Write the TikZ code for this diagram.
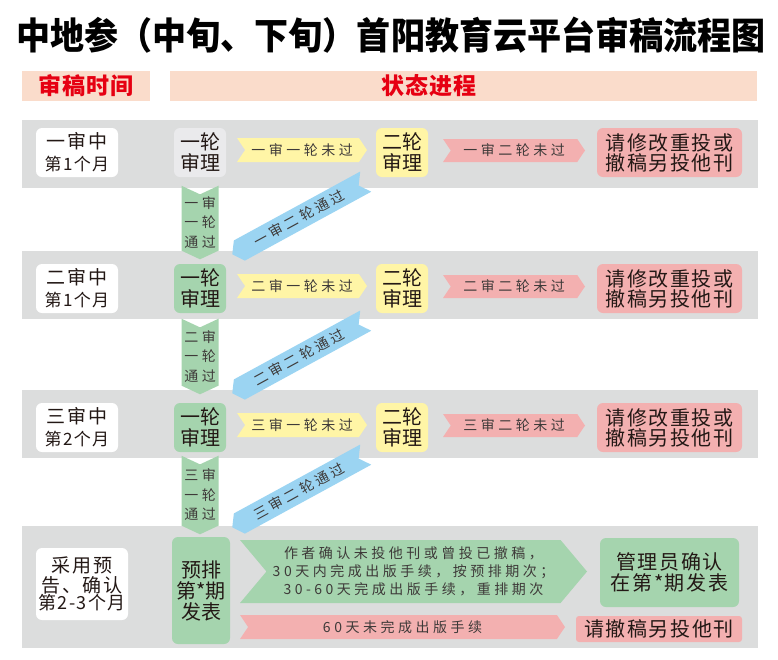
\documentclass[tikz,border=0pt]{standalone}
\usepackage{fontspec}
\usepackage{tikz}
\usetikzlibrary{shapes.symbols}

\setmainfont{Noto Sans CJK SC}
\newfontfamily\boxfont{Noto Sans CJK SC}[LetterSpace=8]
\newfontfamily\arrowfont{Noto Sans CJK SC}[LetterSpace=25]
\newfontfamily\hdrfont{Noto Sans CJK SC}[LetterSpace=5]

\definecolor{bandgray}{HTML}{DCDDDD}
\definecolor{hdrpeach}{HTML}{FADCCB}
\definecolor{hdrred}{HTML}{E60012}
\definecolor{boxgray}{HTML}{EAEAEC}
\definecolor{passgreen}{HTML}{A5D4AE}
\definecolor{passblue}{HTML}{9BD4F2}
\definecolor{failyellow}{HTML}{FFF5A6}
\definecolor{failpink}{HTML}{F3B0B0}
\definecolor{ink}{HTML}{231815}
\definecolor{inkgray}{HTML}{3E3A39}

\begin{document}
\begin{tikzpicture}[x=1pt, y=-1pt,
    band/.style={fill=bandgray, inner sep=0pt, minimum width=736},
    hdr/.style={fill=hdrpeach, text=hdrred, inner sep=0pt, minimum height=30, font=\hdrfont\bfseries\fontsize{23}{23}\selectfont},
    timebox/.style={fill=white, rounded corners=6, align=center, inner sep=0pt, minimum width=82, minimum height=49, text=ink, font=\boxfont\fontsize{19}{22}\selectfont},
    stagebox/.style={rounded corners=6, align=center, inner sep=0pt, minimum width=52, minimum height=49, text=ink, font=\fontsize{20}{21}\selectfont},
    resultbox/.style={fill=failpink, rounded corners=6, align=center, inner sep=0pt, text=ink, font=\boxfont\fontsize{20}{20}\selectfont},
    flow/.style={signal, signal from=west, signal to=east, signal pointer angle=112, inner sep=0pt, minimum height=24, text=inkgray, font=\arrowfont\fontsize{14}{14}\selectfont},
    downflow/.style={signal, signal from=north, signal to=south, signal pointer angle=130, fill=passgreen, inner sep=0pt, minimum width=37, align=center, text=inkgray, font=\arrowfont\fontsize{14}{19.5}\selectfont},
    crossflow/.style={signal, signal from=east, signal to=west, signal pointer angle=110, fill=passblue, inner sep=0pt, minimum width=152, minimum height=23, rotate=28.6, text=inkgray, font=\arrowfont\fontsize{14}{14}\selectfont}
  ]
  \useasboundingbox (0,0) rectangle (778,659);

  \node[font=\bfseries\fontsize{37}{37}\selectfont] (title) at (391,35) {\scalebox{0.92}[1]{中地参（中旬、下旬）首阳教育云平台审稿流程图}};

  \node[hdr, minimum width=128] (hdrtime) at (86,85.5) {审稿时间};
  \node[hdr, minimum width=587] (hdrstate) at (463.5,85.5) {};
  \node[hdr, fill=none] (hdrstatetext) at (429,85.5) {状态进程};

  % grey bands first, arrows cross them
  \foreach \i/\bandy/\bandh in {1/154/68, 2/285/68, 3/424/68, 4/587/122}
    \node[band, minimum height=\bandh] (band\i) at (390,\bandy) {};

  \foreach \i/\ord/\mon/\rowy/\sfill/\downy/\downh/\crossy in {1/一/1/152.5/boxgray/222.5/71/218, 2/二/1/288.5/passgreen/356.5/73/357, 3/三/2/427.5/passgreen/495/76/491} {
    \node[timebox] (t\i) at (77,\rowy) {\ord 审中\\{\fontsize{17}{17}\selectfont 第\mon 个月}};
    \node[stagebox, fill=\sfill] (first\i) at (200,\rowy) {一轮\\审理};
    \node[flow, fill=failyellow, minimum width=130] (failfirst\i) at (302,{\rowy-2.5}) {\ord 审一轮未过};
    \node[stagebox, fill=failyellow] (second\i) at (402,\rowy) {二轮\\审理};
    \node[flow, fill=failpink, minimum width=142, minimum height=23] (failsecond\i) at (514,{\rowy-2}) {\ord 审二轮未过};
    \node[resultbox, minimum width=145, minimum height=49] (revise\i) at (669.5,\rowy) {请修改重投或\\撤稿另投他刊};
    \node[downflow, minimum height=\downh] (passfirst\i) at (200,\downy) {\ord 审\\一轮\\通过};
    \node[crossflow] (passsecond\i) at (299,\crossy) {\ord 审二轮通过};
  }

  \node[timebox, minimum width=92, minimum height=72, font=\boxfont\fontsize{19}{20}\selectfont] (t4) at (82,584) {采用预\\告、确认\\[-3pt]{\fontsize{18}{18}\selectfont 第2-3个月}};
  \node[stagebox, fill=passgreen, minimum width=58, minimum height=107] (pub) at (201,590.5) {预排\\第*期\\发表};
  \node[flow, fill=passgreen, minimum width=347, minimum height=63, signal pointer angle=100, align=center, font=\arrowfont\fontsize{14}{18}\selectfont] (accept) at (413.5,571.5) {作者确认未投他刊或曾投已撤稿，\\30天内完成出版手续，按预排期次；\\30-60天完成出版手续，重排期次};
  \node[stagebox, fill=passgreen, minimum width=139, minimum height=69, font=\boxfont\fontsize{20}{21}\selectfont] (confirm) at (669.5,572.5) {管理员确认\\在第*期发表};
  \node[flow, fill=failpink, minimum width=325] (late) at (402.5,627) {60天未完成出版手续};
  \node[resultbox, minimum width=166, minimum height=26, rounded corners=3] (withdraw) at (659,629) {请撤稿另投他刊};
\end{tikzpicture}
\end{document}
